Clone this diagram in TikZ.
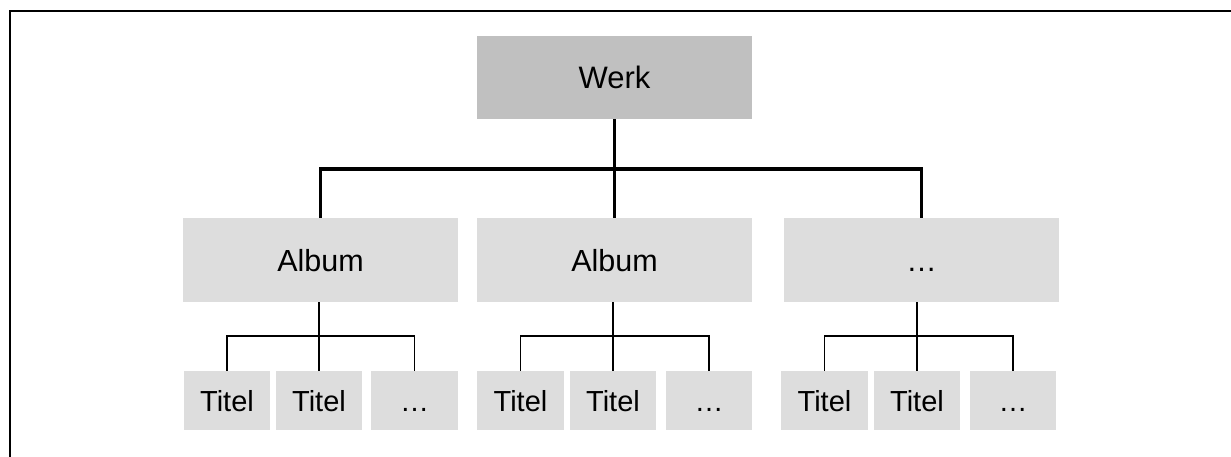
\documentclass[tikz,border=0pt]{standalone}
\usepackage{fontspec}
\setmainfont{Liberation Sans}
\definecolor{werkgray}{HTML}{C0C0C0}
\definecolor{boxgray}{HTML}{DDDDDD}
\begin{document}
\begin{tikzpicture}[x=1pt,y=-1pt,
  basebox/.style={draw=none,inner sep=0pt,text depth=0pt},
  werkbox/.style={basebox,fill=werkgray,minimum width=275pt,minimum height=83pt,text height=22.5pt,font=\fontsize{31}{36}\selectfont},
  albumbox/.style={basebox,fill=boxgray,minimum width=275pt,minimum height=84pt,text height=22pt,font=\fontsize{30.5}{36}\selectfont},
  titelbox/.style={basebox,fill=boxgray,minimum width=86.5pt,minimum height=59pt,text height=21pt,font=\fontsize{29}{34}\selectfont},
  thickline/.style={line width=3.6pt},
  thinline/.style={line width=1.8pt},
  frameline/.style={line width=2.8pt,line join=miter}]
\useasboundingbox (0,0) rectangle (1231,456);
\draw[frameline] (1235,11) -- (10,11) -- (10,460);

\node[werkbox] (W) at (614.5,77.5) {Werk};
\node[albumbox] (A1) at (320.5,260) {Album};
\node[albumbox] (A2) at (614.5,260) {Album};
\node[albumbox] (A3) at (921.5,260) {…};

\node[titelbox] (T11) at (227,400.5) {Titel};
\node[titelbox] (T12) at (319,400.5) {Titel};
\node[titelbox] (T13) at (414.5,400.5) {…};
\node[titelbox] (T21) at (520.5,400.5) {Titel};
\node[titelbox] (T22) at (613,400.5) {Titel};
\node[titelbox] (T23) at (709,400.5) {…};
\node[titelbox] (T31) at (824.5,400.5) {Titel};
\node[titelbox] (T32) at (917,400.5) {Titel};
\node[titelbox] (T33) at (1013,400.5) {…};

\coordinate (bus) at (614.5,169);
\draw[thickline] (W.south) -- (A2.north);
\draw[thickline] (A1.north) -- (A1.north |- bus) -- (A3.north |- bus) -- (A3.north);

\coordinate (b1) at (319,336);
\coordinate (b2) at (613,336);
\coordinate (b3) at (917,336);
\draw[thinline] (A1.south -| T12.north) -- (T12.north);
\draw[thinline] (T11.north) |- (T13.north |- b1) -- (T13.north);
\draw[thinline] (A2.south -| T22.north) -- (T22.north);
\draw[thinline] (T21.north) |- (T23.north |- b2) -- (T23.north);
\draw[thinline] (A3.south -| T32.north) -- (T32.north);
\draw[thinline] (T31.north) |- (T33.north |- b3) -- (T33.north);
\end{tikzpicture}
\end{document}
